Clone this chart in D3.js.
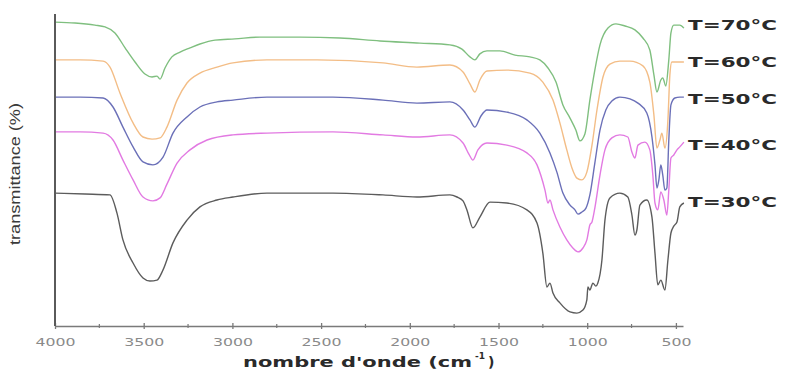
<!DOCTYPE html>
<html>
<head>
<meta charset="utf-8">
<script src="https://cdn.jsdelivr.net/npm/d3@7"></script>
<style>
  html, body { margin: 0; padding: 0; background: #fff; }
  svg { display: block; }
</style>
</head>
<body>
<svg id="chart" width="802" height="372"></svg>
<script>
// FTIR spectra: [wavenumber (cm-1), transmittance (a.u., stacked)]
const spectrumT70 = [
  [4000,101.3],[3887,101.0],[3775,100.3],[3718,99.7],[3662,97.7],[3605,92.7],[3549,88.0],
  [3493,84.0],[3453,83.0],[3425,83.3],[3408,82.3],[3380,86.0],[3341,89.7],[3295,91.3],
  [3239,92.7],[3183,94.0],[3098,95.3],[2986,95.7],[2845,96.3],[2619,96.3],[2394,96.0],
  [2168,95.0],[1943,94.3],[1774,93.7],[1706,92.3],[1661,89.7],[1633,88.7],[1605,90.7],
  [1565,91.7],[1492,91.7],[1407,90.3],[1323,89.7],[1267,88.7],[1221,86.0],[1176,81.3],
  [1137,73.7],[1097,69.3],[1064,65.3],[1041,61.7],[1013,64.0],[985,75.3],[957,85.3],
  [928,93.7],[883,99.3],[838,100.7],[787,100.0],[731,98.7],[686,96.0],[647,92.0],
  [624,83.7],[607,78.0],[585,82.0],[574,82.7],[557,80.0],[540,88.7],[528,97.7],
  [512,100.3],[478,100.3],[455,99.3]
];
const spectrumT60 = [
  [4000,88.7],[3859,88.7],[3729,88.3],[3690,86.3],[3634,77.7],[3560,67.7],[3504,63.0],
  [3453,62.3],[3408,62.7],[3369,66.3],[3312,75.3],[3256,81.0],[3183,84.3],[3087,86.3],
  [2997,87.7],[2805,88.7],[2523,88.7],[2151,87.7],[1960,86.3],[1774,87.0],[1700,84.7],
  [1661,80.7],[1633,78.0],[1605,82.0],[1565,85.0],[1453,85.3],[1323,84.3],[1250,81.3],
  [1193,75.3],[1154,67.7],[1115,58.7],[1086,52.7],[1058,49.3],[1030,48.7],[1002,51.3],
  [973,60.3],[945,72.0],[911,83.0],[872,87.3],[816,88.3],[759,88.3],[686,86.7],
  [647,81.3],[624,70.3],[607,59.3],[590,62.0],[579,64.3],[562,59.3],[545,68.7],
  [534,83.7],[523,88.0],[489,88.0],[455,88.0]
];
const spectrumT50 = [
  [4000,76.3],[3859,76.3],[3729,76.0],[3673,73.0],[3617,66.3],[3560,59.7],[3504,54.7],
  [3448,53.7],[3391,56.3],[3335,64.3],[3256,69.7],[3183,73.0],[3087,74.7],[2997,75.3],
  [2805,76.3],[2433,76.3],[2151,75.3],[1960,74.3],[1774,74.7],[1700,72.0],[1661,68.7],
  [1633,66.3],[1599,70.0],[1565,72.0],[1453,71.3],[1340,68.7],[1267,64.3],[1210,57.7],
  [1171,51.3],[1137,44.3],[1097,40.3],[1069,38.7],[1052,37.3],[1030,38.0],[1007,39.3],
  [985,43.7],[957,54.3],[928,65.3],[895,72.0],[861,75.0],[816,76.3],[759,75.7],
  [714,74.3],[664,71.0],[635,63.0],[618,53.7],[607,46.0],[596,48.7],[585,53.7],
  [574,50.3],[562,45.3],[551,46.0],[540,62.0],[528,73.7],[506,76.0],[478,76.3],[455,76.3]
];
const spectrumT40 = [
  [4000,64.7],[3859,64.7],[3729,64.3],[3673,62.0],[3617,55.3],[3560,48.7],[3504,43.0],
  [3448,41.7],[3408,42.7],[3369,47.3],[3312,54.3],[3239,58.7],[3143,62.0],[2997,63.7],
  [2805,64.3],[2433,64.7],[2151,63.7],[1960,63.0],[1774,63.7],[1700,61.0],[1667,57.3],
  [1644,55.3],[1616,58.7],[1565,61.0],[1453,60.3],[1340,57.7],[1283,53.7],[1238,45.3],
  [1221,41.0],[1210,42.0],[1193,38.7],[1154,33.0],[1115,28.7],[1081,26.0],[1052,24.7],
  [1024,26.0],[1002,28.7],[985,33.7],[973,34.7],[957,39.3],[928,50.3],[900,58.7],
  [861,62.7],[816,63.7],[771,63.0],[748,58.0],[731,56.0],[714,60.3],[675,61.3],
  [647,58.7],[630,50.3],[618,41.0],[602,38.7],[585,44.7],[568,42.0],[551,37.0],
  [540,45.3],[528,56.0],[512,57.0],[494,58.7],[478,59.7],[455,61.3]
];
const spectrumT30 = [
  [4000,44.3],[3831,44.0],[3690,43.7],[3651,37.7],[3617,28.7],[3560,21.0],[3504,16.0],
  [3465,15.0],[3425,15.3],[3391,18.7],[3335,27.7],[3256,35.3],[3183,39.7],[3087,42.0],
  [2997,43.0],[2805,44.3],[2433,44.3],[2151,43.7],[1960,43.0],[1774,43.7],[1734,43.0],
  [1700,41.7],[1678,38.7],[1644,32.7],[1605,36.3],[1548,41.3],[1453,41.0],[1340,38.7],
  [1283,34.3],[1250,24.3],[1227,13.0],[1210,14.3],[1193,11.0],[1154,7.7],[1097,4.7],
  [1058,4.3],[1024,5.3],[1002,8.7],[996,13.0],[985,12.0],[968,14.3],[951,13.3],
  [940,14.3],[917,22.0],[900,35.3],[872,42.7],[816,44.3],[771,43.0],[748,37.0],
  [731,30.3],[720,32.0],[703,40.3],[664,42.0],[635,36.3],[618,24.3],[602,13.7],
  [585,15.3],[562,12.0],[545,22.0],[528,31.0],[512,33.3],[494,34.7],[478,39.7],[455,41.0]
];

const seriesNames = ["T=70°C", "T=60°C", "T=50°C", "T=40°C", "T=30°C"];
const seriesColors = ["#7fbf7f", "#f3bd86", "#6b70b8", "#e27ae2", "#5c5c5c"];
const seriesData = [spectrumT70, spectrumT60, spectrumT50, spectrumT40, spectrumT30];
// label anchor level for each series (transmittance units)
const labelLevels = [100.3, 88.0, 75.7, 60.3, 41.3];

const majorTicks = [4000, 3500, 3000, 2500, 2000, 1500, 1000, 500];
const minorTicks = [3750, 3250, 2750, 2250, 1750, 1250, 750];

const svg = d3.select("#chart");
const margin = { left: 55, right: 119, top: 14, bottom: 46 };
const W = 802, H = 372;

const x = d3.scaleLinear().domain([4000, 460]).range([margin.left, W - margin.right]);
const y = d3.scaleLinear().domain([0, 104]).range([H - margin.bottom, margin.top]);

// spectra
const line = d3.line()
  .x(d => x(d[0]))
  .y(d => y(d[1]))
  .curve(d3.curveMonotoneX);

svg.append("g")
  .selectAll("path")
  .data(seriesData)
  .join("path")
  .attr("d", line)
  .attr("fill", "none")
  .attr("stroke", (d, i) => seriesColors[i])
  .attr("stroke-width", 1.4)
  .attr("stroke-linejoin", "round");

// x axis
const xAxis = svg.append("g")
  .attr("transform", `translate(0,${y(0)})`)
  .call(d3.axisBottom(x).tickValues(majorTicks).tickFormat(d3.format("d"))
    .tickSize(4).tickPadding(6).tickSizeOuter(0));
xAxis.select(".domain").attr("stroke", "#7a7a7a").attr("stroke-width", 1.6);
xAxis.selectAll(".tick line").attr("stroke", "#7a7a7a").attr("y1", -3).attr("y2", 3).attr("stroke-width", 1.3);
xAxis.selectAll(".tick text")
  .attr("fill", "#8a8a8a")
  .attr("font-family", "DejaVu Sans, sans-serif")
  .attr("font-size", 11)
  .attr("dy", "0.9em")
  .attr("textLength", d => d >= 1000 ? 40 : 30)
  .attr("lengthAdjust", "spacingAndGlyphs");

svg.append("g")
  .selectAll("line")
  .data(minorTicks)
  .join("line")
  .attr("x1", d => x(d)).attr("x2", d => x(d))
  .attr("y1", y(0) - 2).attr("y2", y(0) + 2)
  .attr("stroke", "#7a7a7a").attr("stroke-width", 1.2);

// y axis (no ticks)
svg.append("line")
  .attr("x1", x(4000)).attr("x2", x(4000))
  .attr("y1", margin.top).attr("y2", y(0))
  .attr("stroke", "#5a5a5a").attr("stroke-width", 2);

// series labels
svg.append("g")
  .selectAll("text")
  .data(seriesNames)
  .join("text")
  .attr("x", 688)
  .attr("y", (d, i) => y(labelLevels[i]))
  .attr("dy", "0.36em")
  .attr("font-family", "DejaVu Sans, sans-serif")
  .attr("font-weight", "bold")
  .attr("font-size", 14)
  .attr("fill", "#2a2a2a")
  .attr("textLength", 89)
  .attr("lengthAdjust", "spacingAndGlyphs")
  .text(d => d);

// axis titles
svg.append("text")
  .attr("transform", `translate(20,${(margin.top + y(0)) / 2 + 4}) rotate(-90)`)
  .attr("text-anchor", "middle")
  .attr("font-family", "Liberation Sans Narrow, Liberation Sans, sans-serif")
  .attr("font-size", 14)
  .attr("fill", "#3a3a3a")
  .attr("textLength", 142)
  .attr("lengthAdjust", "spacingAndGlyphs")
  .text("transmittance (%)");

const xt = svg.append("g")
  .attr("font-family", "DejaVu Sans, sans-serif")
  .attr("font-weight", "bold")
  .attr("fill", "#2a2a2a");
xt.append("text")
  .attr("x", 243).attr("y", 367)
  .attr("font-size", 14)
  .attr("textLength", 229)
  .attr("lengthAdjust", "spacingAndGlyphs")
  .text("nombre d'onde (cm");
xt.append("text")
  .attr("x", 475).attr("y", 359)
  .attr("font-size", 9)
  .attr("textLength", 10)
  .attr("lengthAdjust", "spacingAndGlyphs")
  .text("-1");
xt.append("text")
  .attr("x", 488).attr("y", 367)
  .attr("font-size", 14)
  .text(")");
</script>
</body>
</html>
